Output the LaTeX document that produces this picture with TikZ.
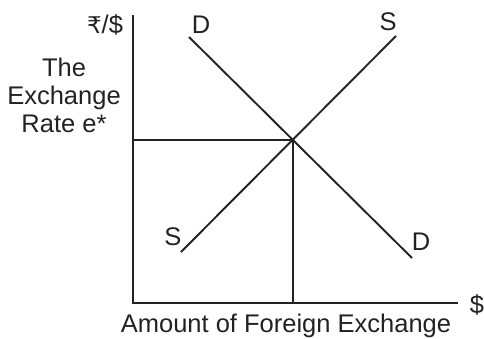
\documentclass[tikz,border=0pt]{standalone}
\usepackage{fontspec}
\setmainfont{Liberation Sans}
\newfontfamily\rupeefont{DejaVu Sans}
\definecolor{ink}{HTML}{222222}
\begin{document}
\begin{tikzpicture}[x=1pt,y=-1pt,
  ln/.style={draw=ink,line width=1.9pt},
  lbl/.style={anchor=base,inner sep=0pt,text=ink,font=\fontsize{25.5}{28}\selectfont}]
\useasboundingbox (0,0) rectangle (484,338);
% axes
\coordinate (ytop) at (133,15);
\coordinate (O) at (133,303);
\coordinate (xend) at (458,303);
\coordinate (ye) at (133,140);
\coordinate (xe) at (293,303);
\coordinate (E) at (293,140);
\coordinate (D1) at (189,37);
\coordinate (D2) at (412,258);
\coordinate (S1) at (181,252);
\coordinate (S2) at (396,36);
\draw[ln] (ytop) -- (O) -- (xend);
\draw[ln] (ye) -- (E) -- (xe);
\draw[ln] (D1) -- (D2);
\draw[ln] (S1) -- (S2);
% labels
\node[lbl] (rs) at (105,33) {{\rupeefont\fontsize{23}{26}\selectfont ₹}/\$};
\node[lbl] (t1) at (64,76) {The};
\node[lbl] (t2) at (64,104) {Exchange};
\node[lbl] (t3) at (64,132) {Rate e*};
\node[lbl] (dtop) at (201,33) {D};
\node[lbl] (stop) at (388,30) {S};
\node[lbl] (sbot) at (173,245) {S};
\node[lbl] (dbot) at (421,250) {D};
\node[lbl] (dol) at (477,313) {\$};
\node[lbl] (amt) at (286,332) {Amount of Foreign Exchange};
\end{tikzpicture}
\end{document}
